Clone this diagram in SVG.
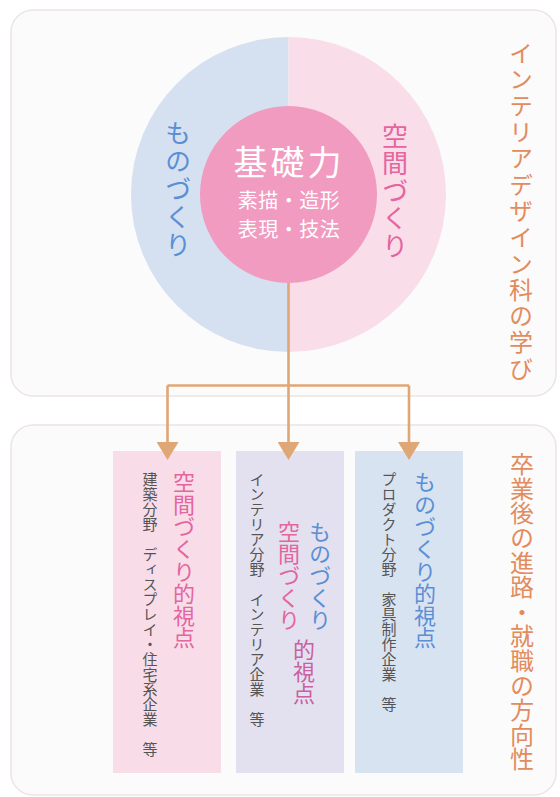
<svg xmlns="http://www.w3.org/2000/svg" width="560" height="797" viewBox="0 0 560 797">
<defs>
<style>
text{font-family:"Noto Sans CJK JP","Noto Sans",sans-serif;}
.v{writing-mode:vertical-rl;}
.panel{fill:#fcfbfb;stroke:#ece5e2;stroke-width:1.5;}
.title{fill:#e28c5e;font-size:24px;}
.blue{fill:#5b8fd5;}
.pink{fill:#e4659f;}
.purple{fill:#c9609f;}
.head{font-size:22px;}
.body{fill:#555555;font-size:15px;}
.conn{fill:none;stroke:#dfa676;stroke-width:2.6;}
.white{fill:#ffffff;}
</style>
<marker id="ah" markerUnits="userSpaceOnUse" markerWidth="18" markerHeight="22" viewBox="0 0 18 22" refX="0" refY="11" orient="auto">
<path d="M0,0 L18,11 L0,22 Z" fill="#dfa676"/>
</marker>
</defs>

<g id="panel-top">
<rect class="panel" x="11" y="10" width="545" height="386" rx="22"/>
<text class="title v" x="521" y="41" letter-spacing="2.3">インテリアデザイン科の学び</text>
</g>

<g id="panel-bottom">
<rect class="panel" x="11" y="425" width="545" height="370" rx="22"/>
<text class="title v" x="522" y="452" letter-spacing="0.6">卒業後の進路・就職の方向性</text>
</g>

<g id="circle">
<path d="M288.5,37 A157.5,157.5 0 0 0 288.5,352 Z" fill="#d5e1f1"/>
<path d="M288.5,37 A157.5,157.5 0 0 1 288.5,352 Z" fill="#f9dde9"/>
<text class="blue v" x="178" y="120" font-size="26" letter-spacing="2">ものづくり</text>
<text class="pink v" x="395" y="123" font-size="26" letter-spacing="1.5">空間づくり</text>
</g>

<g id="core">
<circle cx="288.5" cy="194.5" r="88.5" fill="#f09bbf"/>
<text class="white" x="289" y="175" font-size="34" text-anchor="middle" letter-spacing="3">基礎力</text>
<text class="white" x="289" y="208" font-size="20" text-anchor="middle" letter-spacing="0.5">素描・造形</text>
<text class="white" x="289" y="237" font-size="20" text-anchor="middle" letter-spacing="0.5">表現・技法</text>
</g>

<g id="box-space">
<rect x="113" y="451" width="108" height="322" fill="#f8dde9"/>
<text class="pink head v" x="184" y="471" letter-spacing="0.3">空間づくり的視点</text>
<text class="body v" x="150" y="472">建築分野　ディスプレイ・住宅系企業　等</text>
</g>

<g id="box-interior">
<rect x="236" y="451" width="108" height="322" fill="#e3e1f0"/>
<text class="blue head v" x="320" y="521">ものづくり</text>
<text class="pink head v" x="289" y="521">空間づくり</text>
<text class="purple head v" x="304" y="639">的視点</text>
<text class="body v" x="257" y="472">インテリア分野　インテリア企業　等</text>
</g>

<g id="box-product">
<rect x="355" y="451" width="108" height="322" fill="#d8e3f2"/>
<text class="blue head v" x="425" y="471" letter-spacing="0.3">ものづくり的視点</text>
<text class="body v" x="389" y="472">プロダクト分野　家具制作企業　等</text>
</g>

<g id="connectors">
<path class="conn" d="M288.5,283 V385.5 M167.5,385.5 H409"/>
<path class="conn" d="M167.5,385.5 V442" marker-end="url(#ah)"/>
<path class="conn" d="M288.5,385.5 V442" marker-end="url(#ah)"/>
<path class="conn" d="M409,385.5 V442" marker-end="url(#ah)"/>
</g>
</svg>
